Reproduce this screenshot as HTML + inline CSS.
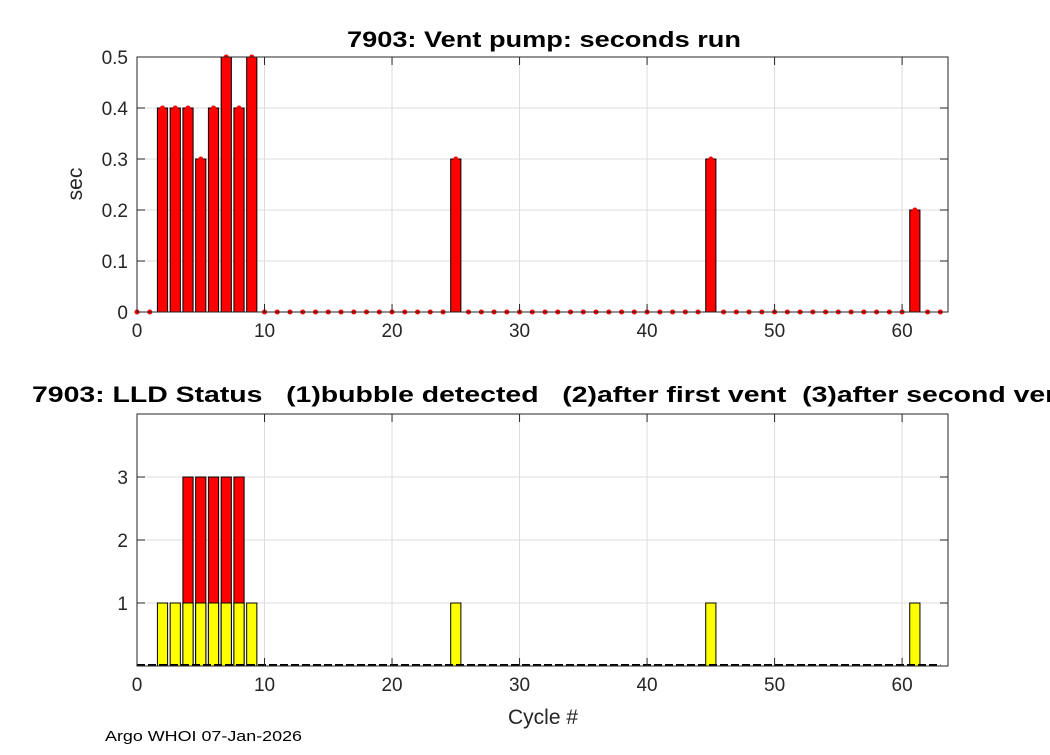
<!DOCTYPE html>
<html><head><meta charset="utf-8"><style>
body{margin:0;background:#fff;width:1050px;height:750px;overflow:hidden;font-family:"Liberation Sans",sans-serif}
svg text{font-family:"Liberation Sans",sans-serif;white-space:pre}
</style></head><body>
<svg id="c" width="1050" height="750"></svg>
<script>
const cycles=[...Array(64).keys()];
const ventSec=[0,0,0.4,0.4,0.4,0.3,0.4,0.5,0.4,0.5,0,0,0,0,0,0,0,0,0,0,0,0,0,0,0,0.3,0,0,0,0,0,0,0,0,0,0,0,0,0,0,0,0,0,0,0,0.3,0,0,0,0,0,0,0,0,0,0,0,0,0,0,0,0.2,0,0];
const lldBubble=[0,0,1,1,1,1,1,1,1,1,0,0,0,0,0,0,0,0,0,0,0,0,0,0,0,1,0,0,0,0,0,0,0,0,0,0,0,0,0,0,0,0,0,0,0,1,0,0,0,0,0,0,0,0,0,0,0,0,0,0,0,1,0,0];
const lldSecond=[0,0,0,0,3,3,3,3,3,0,0,0,0,0,0,0,0,0,0,0,0,0,0,0,0,0,0,0,0,0,0,0,0,0,0,0,0,0,0,0,0,0,0,0,0,0,0,0,0,0,0,0,0,0,0,0,0,0,0,0,0,0,0,0];
const xTicks=[0,10,20,30,40,50,60];
const yTicksTop=[0,0.1,0.2,0.3,0.4,0.5];
const yTicksBot=[1,2,3];
const NS='http://www.w3.org/2000/svg',svg=document.getElementById('c');
function el(t,a,txt){const e=document.createElementNS(NS,t);for(const k in a)e.setAttribute(k,a[k]);if(txt!=null)e.textContent=txt;svg.appendChild(e);return e;}
const L=137,R=948,xMax=63.6;
const X=v=>L+v*(R-L)/xMax;
const T={top:57,bot:312,max:0.5}, B={top:414,bot:666,max:4};
const YT=v=>T.bot-v/T.max*(T.bot-T.top);
const YB=v=>B.bot-v/B.max*(B.bot-B.top);
const bw=0.8*(R-L)/xMax;
function grid(Y,ticks,top,bot,name){
  xTicks.forEach(t=>{const g=el('line',{x1:X(t),x2:X(t),y1:top,y2:bot,stroke:'#dcdcdc','stroke-width':1});});
  ticks.forEach(t=>{const g=el('line',{x1:L,x2:R,y1:Y(t),y2:Y(t),stroke:'#dcdcdc','stroke-width':1});});
}
function frame(Y,ticks,top,bot,name,fmt){
  const r=el('rect',{x:L,y:top,width:R-L,height:bot-top,fill:'none',stroke:'#262626','stroke-width':1});
  
  xTicks.forEach(t=>{el('line',{x1:X(t),x2:X(t),y1:bot,y2:bot-8,stroke:'#262626'});el('line',{x1:X(t),x2:X(t),y1:top,y2:top+8,stroke:'#262626'});
    const tx=el('text',{x:X(t),y:bot+25,'text-anchor':'middle','font-size':19,fill:'#262626'},t);});
  ticks.forEach(t=>{el('line',{x1:L,x2:L+8,y1:Y(t),y2:Y(t),stroke:'#262626'});el('line',{x1:R,x2:R-8,y1:Y(t),y2:Y(t),stroke:'#262626'});
    const tx=el('text',{x:L-9,y:Y(t)+7,'text-anchor':'end','font-size':19,fill:'#262626'},fmt(t));});
}
grid(YT,yTicksTop,T.top,T.bot,'top');
cycles.forEach((c,i)=>{const v=ventSec[i];
  if(v>0){const b=el('rect',{x:X(c)-bw/2,y:YT(v),width:bw,height:YT(0)-YT(v),fill:'#ff0000',stroke:'#000','stroke-width':1});
    }
  const d=el('circle',{cx:X(c),cy:YT(v),r:2.5,fill:'#ff0000'});
});
frame(YT,yTicksTop,T.top,T.bot,'top',t=>t===0?'0':String(t));
let e=el('text',{x:347,y:47,'font-size':22,'font-weight':'bold',fill:'#000',textLength:394,lengthAdjust:'spacingAndGlyphs'},'7903: Vent pump: seconds run');
e=el('text',{x:82,y:184,'text-anchor':'middle','font-size':21,fill:'#262626',transform:'rotate(-90 82 184)'},'sec');
grid(YB,yTicksBot,B.top,B.bot,'bottom');
cycles.forEach((c,i)=>{
  if(lldSecond[i]>0){const b=el('rect',{x:X(c)-bw/2,y:YB(lldSecond[i]),width:bw,height:YB(0)-YB(lldSecond[i]),fill:'#ff0000',stroke:'#000','stroke-width':1});
    }
  if(lldBubble[i]>0){const b=el('rect',{x:X(c)-bw/2,y:YB(lldBubble[i]),width:bw,height:YB(0)-YB(lldBubble[i]),fill:'#ffff00',stroke:'#000','stroke-width':1});
    }
});
e=el('line',{x1:X(0),x2:X(63),y1:B.bot-1,y2:B.bot-1,stroke:'#000','stroke-width':2,'stroke-dasharray':'8 3'});
frame(YB,yTicksBot,B.top,B.bot,'bottom',String);
e=el('text',{x:32,y:402,'font-size':22,'font-weight':'bold',fill:'#000',textLength:1040,lengthAdjust:'spacingAndGlyphs'},'7903: LLD Status   (1)bubble detected   (2)after first vent  (3)after second vent');
e=el('text',{x:543,y:724,'text-anchor':'middle','font-size':21,fill:'#262626'},'Cycle #');
e=el('text',{x:105,y:741,'font-size':15,fill:'#000',textLength:197,lengthAdjust:'spacingAndGlyphs'},'Argo WHOI 07-Jan-2026');
</script>
</body></html>
